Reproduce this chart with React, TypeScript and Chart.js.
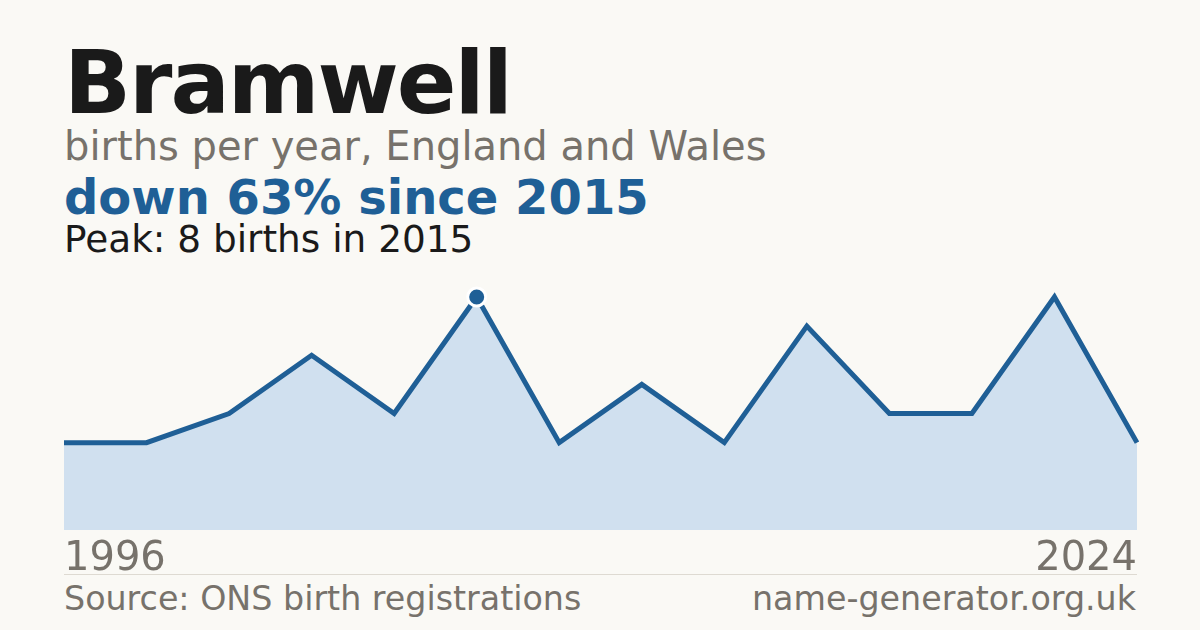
import React, { useEffect, useRef } from "react";
import { Chart, registerables } from "chart.js";

Chart.register(...registerables);

const years: string[] = ["1996", "1998", "2000", "2003", "2008", "2015", "2016", "2017", "2018", "2019", "2020", "2021", "2023", "2024"];
const births: number[] = [3, 3, 4, 6, 4, 8, 3, 5, 3, 7, 4, 4, 8, 3];
const firstYearLabel = "1996";
const lastYearLabel = "2024";

const BG = "#faf9f5";
const BLUE = "#1f5f96";
const FILL = "#d0e0ef";
const GREY = "#77726b";
const INK = "#1a1a1a";
const FONT = '"DejaVu Sans", "Noto Sans", sans-serif';

export default function App() {
  const canvasRef = useRef<HTMLCanvasElement | null>(null);

  useEffect(() => {
    document.body.style.margin = "0";
    document.body.style.background = BG;
    const canvas = canvasRef.current;
    if (!canvas) return;
    const peakIndex = births.indexOf(Math.max(...births));
    const chart = new Chart(canvas, {
      type: "line",
      data: {
        labels: years,
        datasets: [
          {
            data: births,
            borderColor: BLUE,
            borderWidth: 5,
            backgroundColor: FILL,
            fill: "origin",
            tension: 0,
            clip: false,
            pointRadius: (ctx: any) => (ctx.dataIndex === peakIndex ? 9 : 0),
            pointHoverRadius: 0,
            pointBackgroundColor: BLUE,
            pointBorderColor: "#ffffff",
            pointBorderWidth: 3,
          },
        ],
      },
      options: {
        animation: false,
        responsive: false,
        devicePixelRatio: 1,
        events: [],
        layout: { padding: { left: 64, right: 63, top: 27, bottom: 10 } },
        plugins: { legend: { display: false }, tooltip: { enabled: false } },
        scales: {
          x: { display: false, offset: false },
          y: { display: false, min: 0, max: 8 },
        },
      },
    });
    return () => chart.destroy();
  }, []);

  const abs = (top: number, size: number, extra: React.CSSProperties = {}): React.CSSProperties => ({
    position: "absolute",
    top,
    left: 64,
    fontSize: size,
    lineHeight: 1,
    fontFamily: FONT,
    whiteSpace: "nowrap",
    margin: 0,
    ...extra,
  });

  return (
    <div style={{ position: "relative", width: 1200, height: 630, background: BG, overflow: "hidden" }}>
      <div style={abs(38.6, 88, { fontWeight: 700, color: INK, letterSpacing: -2 })}>Bramwell</div>
      <div style={abs(126.2, 40, { color: GREY })}>births per year, England and Wales</div>
      <div style={abs(173.4, 48, { fontWeight: 700, color: BLUE })}>down 63% since 2015</div>
      <div style={abs(221.4, 37.4, { color: INK })}>Peak: 8 births in 2015</div>
      <canvas
        ref={canvasRef}
        width={1200}
        height={270}
        style={{ position: "absolute", left: 0, top: 270, width: 1200, height: 270 }}
      />
      <div style={abs(536.2, 40, { color: GREY })}>{firstYearLabel}</div>
      <div style={abs(536.2, 40, { color: GREY, left: "auto", right: 63 })}>{lastYearLabel}</div>
      <div style={{ position: "absolute", left: 64, right: 63, top: 574, height: 1, background: "#dedad2" }} />
      <div style={abs(581.8, 33.3, { color: GREY })}>Source: ONS birth registrations</div>
      <div style={abs(581.8, 33.3, { color: GREY, left: "auto", right: 64 })}>name-generator.org.uk</div>
    </div>
  );
}
